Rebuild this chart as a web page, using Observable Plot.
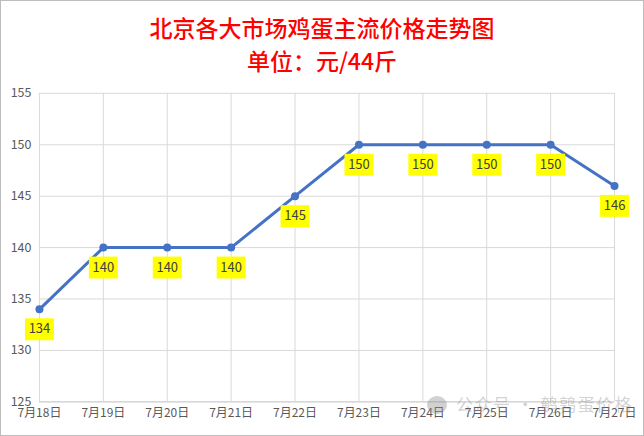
<!DOCTYPE html>
<html><head><meta charset="utf-8">
<script src="https://cdn.jsdelivr.net/npm/d3@7"></script>
<script src="https://cdn.jsdelivr.net/npm/@observablehq/plot@0.6"></script>
<style>
body{margin:0;background:#fff;}
#wrap{position:relative;width:644px;height:436px;box-sizing:border-box;border:1px solid #bdbdbd;overflow:hidden;background:#fff;}
#t{position:absolute;left:0;top:10px;width:100%;text-align:center;color:#ff0000;font-family:"Noto Sans CJK SC",serif;font-size:23px;line-height:33px;font-weight:500;}
#chart{position:absolute;left:-1px;top:-1px;}
#wm{position:absolute;left:455px;top:393px;font-family:"Noto Sans CJK SC";font-size:17px;line-height:20px;color:rgba(140,140,140,0.4);letter-spacing:1.5px;white-space:nowrap;}
#ic{position:absolute;left:426px;top:395px;width:20px;height:18px;border-radius:50%;background:rgba(140,140,140,0.4);}
</style></head>
<body>
<div id="wrap">
<div id="chart"></div>
<div id="t">北京各大市场鸡蛋主流价格走势图<br>单位：元/44斤</div>
<div id="ic"></div>
<div id="wm">公众号 · 鹌鹑蛋价格</div>
</div>
<script>
const dates = ["7月18日","7月19日","7月20日","7月21日","7月22日","7月23日","7月24日","7月25日","7月26日","7月27日"];
const prices = [134,140,140,140,145,150,150,150,150,146];
const yTicks = [125,130,135,140,145,150,155];

const data = dates.map((d,i)=>({date:d, price:prices[i]}));
const rectSymbol = {draw(ctx){ ctx.rect(-14.5,-11,29,22); }};

const chart = Plot.plot({
  width:644, height:436,
  marginLeft:39, marginRight:29, marginTop:93, marginBottom:34,
  style:{fontFamily:"'Noto Sans CJK SC', sans-serif", color:"#595959", background:"transparent"},
  x:{type:"point", domain:dates, padding:0, label:null, tickSize:0, tickPadding:7},
  y:{domain:[125,155], ticks:yTicks, label:null, tickSize:0, tickPadding:8},
  marks:[
    Plot.gridY(yTicks,{stroke:"#d9d9d9", strokeOpacity:1}),
    Plot.gridX(dates,{stroke:"#d9d9d9", strokeOpacity:1}),
    Plot.ruleY([125],{stroke:"#d0d0d0"}),
    Plot.axisY({ticks:yTicks, tickSize:0, tickPadding:8, fontSize:12.5, fill:"#595959"}),
    Plot.axisX({tickSize:0, tickPadding:7, fontSize:12, fill:"#595959"}),
    Plot.line(data,{x:"date", y:"price", stroke:"#4472c4", strokeWidth:3}),
    Plot.dot(data,{x:"date", y:"price", r:4, fill:"#4472c4"}),
    Plot.dot(data,{x:"date", y:"price", dy:20, symbol:rectSymbol, fill:"#ffff00", stroke:"none"}),
    Plot.text(data,{x:"date", y:"price", dy:20, text:d=>String(d.price), fontSize:13, fill:"#404040"})
  ]
});
document.getElementById("chart").append(chart);
</script>
</body></html>
